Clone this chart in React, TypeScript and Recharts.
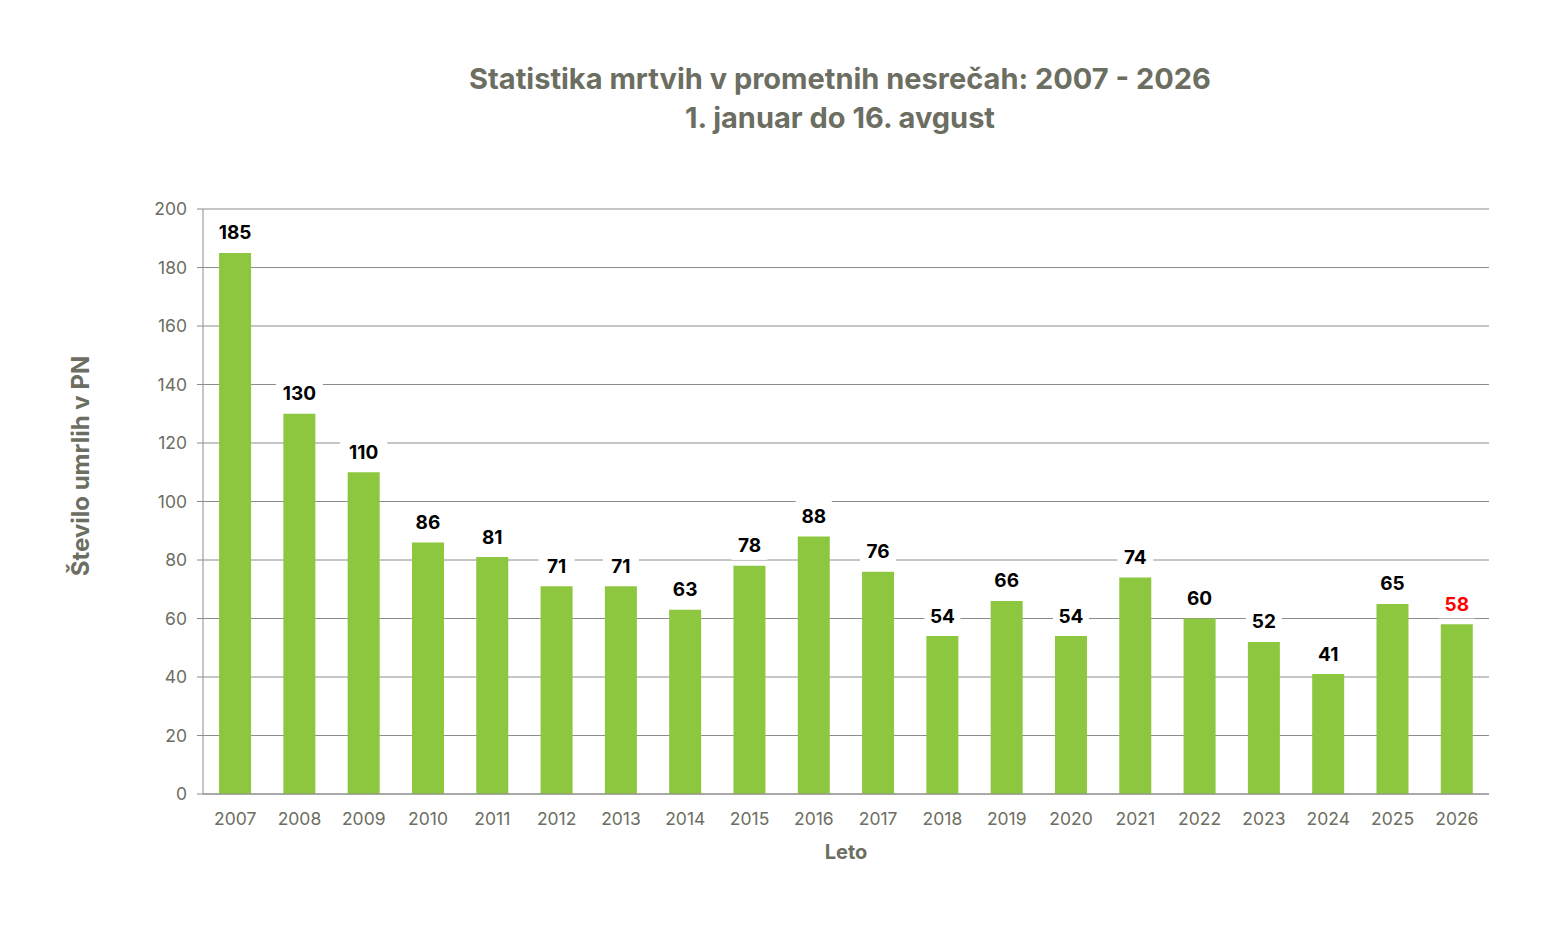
import React from "react";
import { BarChart, Bar, XAxis, YAxis, CartesianGrid, LabelList } from "recharts";

const years = ["2007","2008","2009","2010","2011","2012","2013","2014","2015","2016","2017","2018","2019","2020","2021","2022","2023","2024","2025","2026"];
const deaths = [185,130,110,86,81,71,71,63,78,88,76,54,66,54,74,60,52,41,65,58];
const yTicks = [0,20,40,60,80,100,120,140,160,180,200];
const highlightYear = "2026";

const data = years.map((y, i) => ({ year: y, value: deaths[i] }));

const FONT = "Inter, 'Open Sans', sans-serif";
const GRAY = "#6c6e62";
const GRID = "#8c8c8c";

const renderLabel = (props: any) => {
  const { x, y, width, value, index } = props;
  const cx = x + width / 2;
  const cy = y - 20;
  const txt = String(value);
  const w = txt.length * 11 + 14;
  const isHi = years[index] === highlightYear;
  return (
    <g>
      <rect x={cx - w / 2} y={cy - 16} width={w} height={30} fill="#ffffff" />
      <text x={cx} y={cy} textAnchor="middle" dominantBaseline="central" fontFamily={FONT} fontWeight={700} fontSize={19} fill={isHi ? "#ff0000" : "#000000"}>
        {txt}
      </text>
    </g>
  );
};

export default function App() {
  return (
    <div style={{ position: "relative", width: 1543, height: 934, fontFamily: FONT }}>
      <div style={{ position: "absolute", left: 0, width: 1664, top: 51, textAlign: "center", color: GRAY, fontWeight: 700, fontSize: 29, lineHeight: "39px" }}>
        <div>Statistika mrtvih v prometnih nesrečah: 2007 - 2026</div>
        <div>1. januar do 16. avgust</div>
      </div>
      <div style={{ position: "absolute", left: 73 - 200, top: 458 - 16, width: 400, textAlign: "center", transform: "rotate(-90deg)", color: GRAY, fontWeight: 700, fontSize: 24, lineHeight: "32px" }}>
        Število umrlih v PN
      </div>
      <div style={{ position: "absolute", left: 838 - 100, top: 831, width: 200, textAlign: "center", color: GRAY, fontWeight: 700, fontSize: 20, lineHeight: "26px" }}>
        Leto
      </div>
      <BarChart width={1543} height={934} data={data} margin={{ top: 201, right: 62, left: 135, bottom: 88 }} barCategoryGap="25%">
        <CartesianGrid vertical={false} stroke={GRID} strokeWidth={1} />
        <XAxis dataKey="year" tickLine={false} axisLine={{ stroke: GRID }} tick={{ fill: GRAY, fontSize: 17.5, fontFamily: FONT }} tickMargin={13} height={60} interval={0} />
        <YAxis domain={[0, 200]} ticks={yTicks} width={60} tickLine={{ stroke: GRID }} tickSize={6} axisLine={{ stroke: GRID }} tick={{ fill: GRAY, fontSize: 17.5, fontFamily: FONT }} tickMargin={10} interval={0} />
        <Bar dataKey="value" fill="#8dc63f" isAnimationActive={false}>
          <LabelList dataKey="value" content={renderLabel} />
        </Bar>
      </BarChart>
    </div>
  );
}
